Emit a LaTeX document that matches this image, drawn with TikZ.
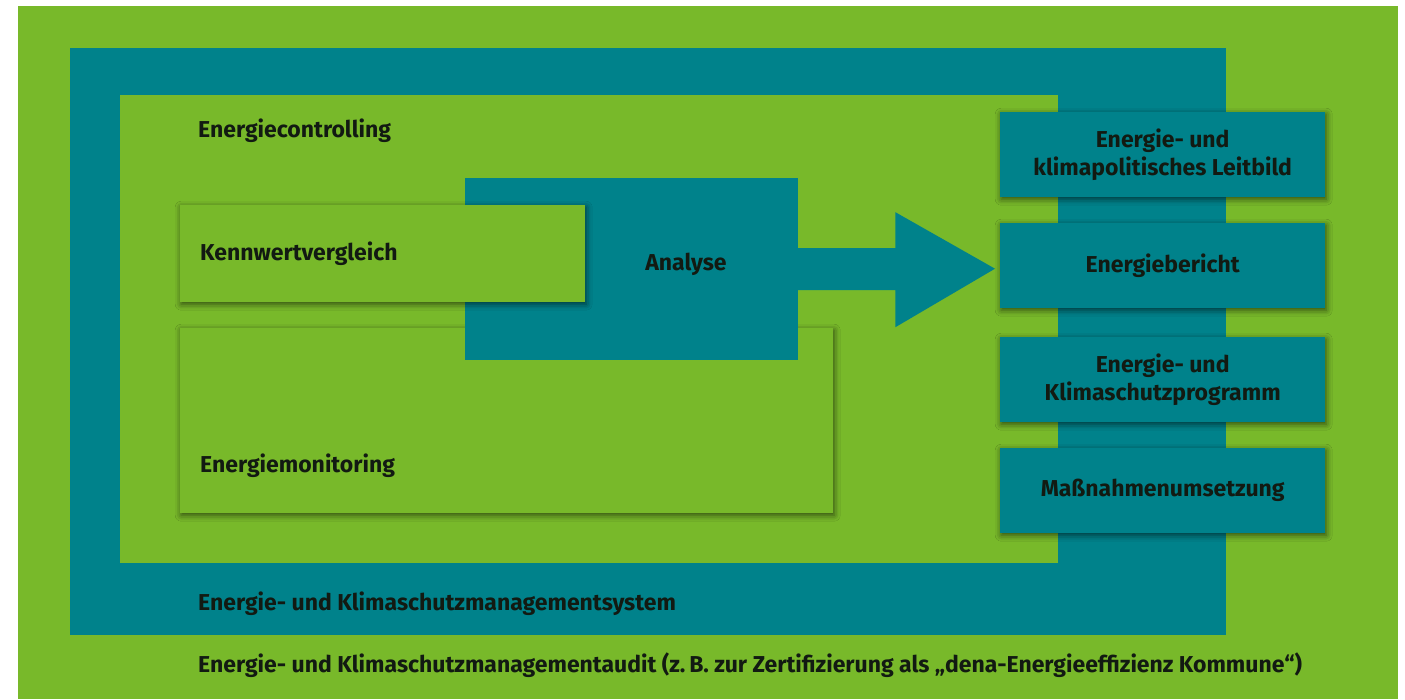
\documentclass[tikz,border=0pt]{standalone}
\usepackage{fontspec}
\setmainfont{Fira Sans}
\usetikzlibrary{shadows.blur,calc}
\definecolor{grn}{RGB}{120,185,42}
\definecolor{tl}{RGB}{0,130,139}
\definecolor{txt}{RGB}{18,26,18}
\begin{document}
\begin{tikzpicture}[x=1pt,y=-1pt,
  font=\fontsize{23}{28}\selectfont\bfseries, text=txt,
  box/.style={draw=none, inner sep=0pt, anchor=north west},
  shad/.style={blur shadow={shadow xshift=1pt, shadow yshift=-2pt, shadow blur radius=6pt, shadow opacity=60}},
  lbl/.style={anchor=west, inner sep=0pt},
  rbox/.style={box, fill=tl, shad, minimum width=325pt, minimum height=85pt, align=center}
]
\useasboundingbox (0,0) rectangle (1405,699);
\fill[white] (0,0) rectangle (1405,699);
\node[box, fill=grn, minimum width=1380pt, minimum height=693pt] (audit) at (18,6) {};
\node[box, fill=tl, minimum width=1156pt, minimum height=587pt] (system) at (70,48) {};
\node[box, fill=grn, minimum width=938pt, minimum height=468pt] (controlling) at (120,95) {};
\node[box, fill=grn, shad, minimum width=653pt, minimum height=185pt] (monitoring) at (180,328) {};
\node[box, fill=tl, minimum width=333pt, minimum height=182pt] (analyse) at (465,178) {};
% right boxes
\node[rbox] (leitbild) at (1000,112) {Energie- und\\klimapolitisches Leitbild};
\node[rbox] (bericht) at (1000,223) {Energiebericht};
\node[rbox] (programm) at (1000,337) {Energie- und\\Klimaschutzprogramm};
\node[rbox] (umsetzung) at (1000,448) {Maßnahmenumsetzung};
% arrow from Analyse to Energiebericht
\fill[tl] ($(analyse.east)+(-1,-21)$) -- ++(98,0) -- ++(0,-36)
  -- ($(bericht.west)+(-5,3)$) -- ($(analyse.east)+(97,58)$) -- ++(0,-37)
  -- ($(analyse.east)+(-1,21)$) -- cycle;
\node[box, fill=grn, shad, minimum width=405pt, minimum height=97pt] (kenn) at (180,205) {};
% labels
\node[lbl] (tcontrolling) at (198,131) {Energiecontrolling};
\node[lbl] (tkenn) at (200,254) {Kennwertvergleich};
\node[anchor=center, inner sep=0pt] (tanalyse) at (686,264) {Analyse};
\node[lbl] (tmonitoring) at (200,466) {Energiemonitoring};
\node[lbl] (tsystem) at (198,604) {Energie- und Klimaschutzmanagementsystem};
\node[lbl] (taudit) at (198,665) {Energie- und Klimaschutzmanagementaudit (z.\,B. zur Zertifizierung als „dena-Energieeffizienz Kommune“)};
\end{tikzpicture}
\end{document}
